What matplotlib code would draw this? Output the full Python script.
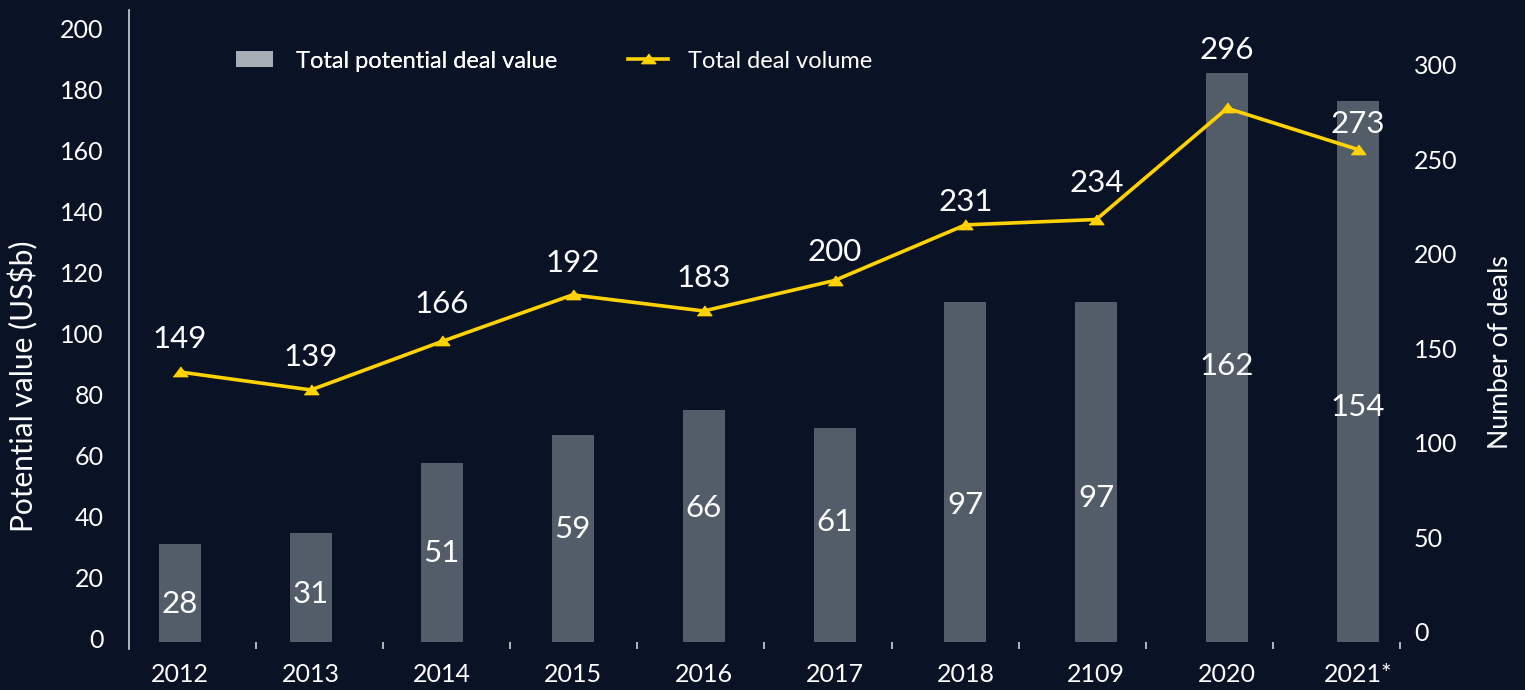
import matplotlib
matplotlib.use("Agg")
import matplotlib.pyplot as plt
from matplotlib.patches import Patch
from matplotlib.lines import Line2D
import numpy as np

# ---------------- data ----------------
years = ["2012", "2013", "2014", "2015", "2016", "2017", "2018", "2109", "2020", "2021*"]
deal_value = [28, 31, 51, 59, 66, 61, 97, 97, 162, 154]          # Total potential deal value (US$b)
deal_volume = [149, 139, 166, 192, 183, 200, 231, 234, 296, 273]  # Total deal volume
left_ticks = [0, 20, 40, 60, 80, 100, 120, 140, 160, 180, 200]
right_ticks = [0, 50, 100, 150, 200, 250, 300]

# ---------------- layout / style ----------------
bar_label_frac = [0.41, 0.46, 0.51, 0.56, 0.59, 0.57, 0.41, 0.43, 0.49, 0.44]
line_label_dy = [35, 35, 40, 34, 35, 31, 25, 39, 61, 28]

BG = "#0a1326"
BAR = "#535d69"
LEG_BAR = "#a8aeb5"
LINE = "#ffd200"
TXT = "#ffffff"
AXC = "#cfd2d6"

plt.rcParams['font.family'] = ['Lato', 'DejaVu Sans']

W, H = 1525, 690
fig = plt.figure(figsize=(W / 100, H / 100), dpi=100, facecolor=BG)

L, R, T, B = 128.5, 1400.0, 10.0, 649.0
rect = [L / W, 1 - B / H, (R - L) / W, (B - T) / H]
x0px, dxpx = 180.0, 130.9
xlim = ((L - x0px) / dxpx, (R - x0px) / dxpx)

def ylim_for(zero_px, px_per_unit):
    return (-(B - zero_px) / px_per_unit, (zero_px - T) / px_per_unit)

ax = fig.add_axes(rect)
ax.set_facecolor(BG)
ax_bar = fig.add_axes(rect)
ax_line = fig.add_axes(rect)
ax_r = fig.add_axes(rect)
for a in (ax_bar, ax_line, ax_r):
    a.patch.set_visible(False)

for a in (ax, ax_bar, ax_line, ax_r):
    a.set_xlim(*xlim)
    for s in a.spines.values():
        s.set_visible(False)

ax.set_ylim(*ylim_for(638.3, 3.05))
ax_r.set_ylim(*ylim_for(631.7, 1.889))
ax_bar.set_ylim(*ylim_for(642.0, 3.51))
ax_line.set_ylim(*ylim_for(639.3, 1.794))

x = np.arange(len(years))

# bars
ax_bar.bar(x, deal_value, width=42 / dxpx, color=BAR, linewidth=0)
for i, (v, f) in enumerate(zip(deal_value, bar_label_frac)):
    ax_bar.text(i, v * f, str(v), ha='center', va='center_baseline',
                color=TXT, fontsize=22.5)

# line
tri = [(-1, -0.57), (1, -0.57), (0, 0.76)]
ax_line.plot(x, deal_volume, color=LINE, lw=2.6, marker=tri, ms=10.5,
             markerfacecolor=LINE, markeredgecolor=LINE)
for i, (v, dy) in enumerate(zip(deal_volume, line_label_dy)):
    ax_line.annotate(str(v), (i, v), xytext=(0, dy), textcoords='offset pixels',
                     ha='center', va='center_baseline', color=TXT, fontsize=22.5)

# axes ticks
for a in (ax_bar, ax_line):
    a.set_xticks([])
    a.set_yticks([])

ax.spines['left'].set_visible(True)
ax.spines['left'].set_color(AXC)
ax.spines['left'].set_linewidth(1.2)
ax.set_yticks(left_ticks)
ax.tick_params(axis='y', length=0, pad=18, labelsize=18, labelcolor=TXT)
ax.set_xticks(x)
ax.set_xticklabels(years)
ax.tick_params(axis='x', which='major', length=0, pad=10, labelsize=18, labelcolor=TXT)
ax.set_xticks(np.linspace((256 - x0px) / dxpx, (1400 - x0px) / dxpx, 10), minor=True)
ax.tick_params(axis='x', which='minor', direction='in', length=5, width=1.2, color=AXC)

ax_r.set_xticks([])
ax_r.yaxis.tick_right()
ax_r.set_yticks(right_ticks)
ax_r.tick_params(axis='y', length=0, pad=10, labelsize=18, labelcolor=TXT)

# axis titles
fig.text(23 / W, 1 - 386 / H, "Potential value (US$b)", rotation=90, ha='center', va='center',
         color=TXT, fontsize=21.5)
fig.text(1500 / W, 1 - 352 / H, "Number of deals", rotation=90, ha='center', va='center',
         color=TXT, fontsize=19.2)

# legends
h1 = Patch(facecolor=LEG_BAR, edgecolor='none', label="Total potential deal value")
leg1 = fig.legend(handles=[h1], loc='center left', bbox_to_anchor=(236 / W, 1 - 61 / H),
                  frameon=False, fontsize=17, borderpad=0, borderaxespad=0,
                  handlelength=1.57, handleheight=0.64, handletextpad=0.98, labelcolor=TXT)
h2 = Line2D([], [], color=LINE, lw=2.6, marker=tri, ms=10.5, label="Total deal volume")
leg2 = fig.legend(handles=[h2], loc='center left', bbox_to_anchor=(628 / W, 1 - 61 / H),
                  frameon=False, fontsize=17, borderpad=0, borderaxespad=0,
                  handlelength=1.7, handletextpad=0.85, labelcolor=TXT)
fig.add_artist(leg1)

fig.savefig("out.png", dpi=100, facecolor=BG)
